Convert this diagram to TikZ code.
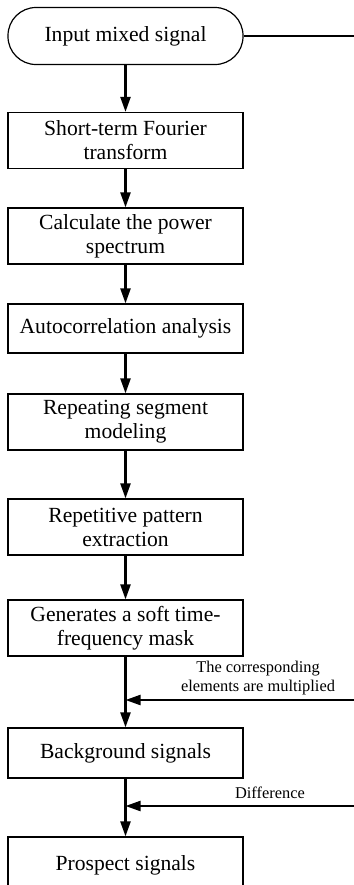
\documentclass[tikz,border=0pt]{standalone}
\usepackage{fontspec}
\setmainfont{Liberation Serif}
\usetikzlibrary{arrows.meta}

\begin{document}
\begin{tikzpicture}
    \def\dx{0.5pt}
    \def\dy{-0.5pt}

    \useasboundingbox (0,0) rectangle (354*\dx,885*\dy);

    \tikzstyle{term}=[draw,line width=0.6pt,rounded corners=14pt,minimum width=117.5pt,minimum height=28.5pt,align=center,font=\fontsize{10.8}{12}\selectfont]
    \tikzstyle{proc}=[draw,line width=0.6pt,minimum width=117.5pt,minimum height=28pt,align=center,inner sep=2pt,font=\fontsize{10.8}{12}\selectfont]
    \tikzstyle{note}=[align=center,inner sep=1pt,font=\fontsize{8.2}{9.8}\selectfont]

    \node[term]  (input) at (125.5*\dx,36*\dy) {Input mixed signal};
    \node[proc]  (stft) at (125.5*\dx,140.5*\dy) {Short-term Fourier\\transform};
    \node[proc]  (power) at (125.5*\dx,236*\dy) {Calculate the power\\spectrum};
    \node[proc, minimum height=24.5pt]  (acorr) at (125.5*\dx,328.5*\dy) {Autocorrelation analysis};
    \node[proc]  (seg) at (125.5*\dx,422*\dy) {Repeating segment\\modeling};
    \node[proc]  (pattern) at (125.5*\dx,527*\dy) {Repetitive pattern\\extraction};
    \node[proc]  (mask) at (125.5*\dx,628*\dy) {Generates a soft time-\\frequency mask};
    \node[proc, minimum height=25pt]  (backg) at (125.5*\dx,753*\dy) {Background signals};
    \node[proc]  (prosp) at (125.5*\dx,865*\dy) {Prospect signals};

    \coordinate (inr) at (354*\dx,36*\dy);
    \coordinate (mulr) at (354*\dx,700*\dy);
    \coordinate (mulj) at (125.5*\dx,700*\dy);
    \coordinate (difr) at (354*\dx,806*\dy);
    \coordinate (difj) at (125.5*\dx,806*\dy);

    \node[note]  (mullabel) at (258*\dx,678*\dy) {The corresponding\\elements are multiplied};
    \node[note]  (diflabel) at (270*\dx,793*\dy) {Difference};

    \tikzstyle{fwd} = [draw=black, line width=1.1pt, -{Triangle[length=7.5pt,width=5pt]}]

          \draw [line width=0.8pt] (input) -- (inr);
          \draw [fwd] (input) -- (stft);
          \draw [fwd] (stft) -- (power);
          \draw [fwd] (power) -- (acorr);
          \draw [fwd] (acorr) -- (seg);
          \draw [fwd] (seg) -- (pattern);
          \draw [fwd] (pattern) -- (mask);
          \draw [fwd] (mask) -- (backg);
          \draw [fwd] (backg) -- (prosp);
          \draw [fwd] (mulr) -- (mulj);
          \draw [fwd] (difr) -- (difj);

  \end{tikzpicture}
\end{document}
